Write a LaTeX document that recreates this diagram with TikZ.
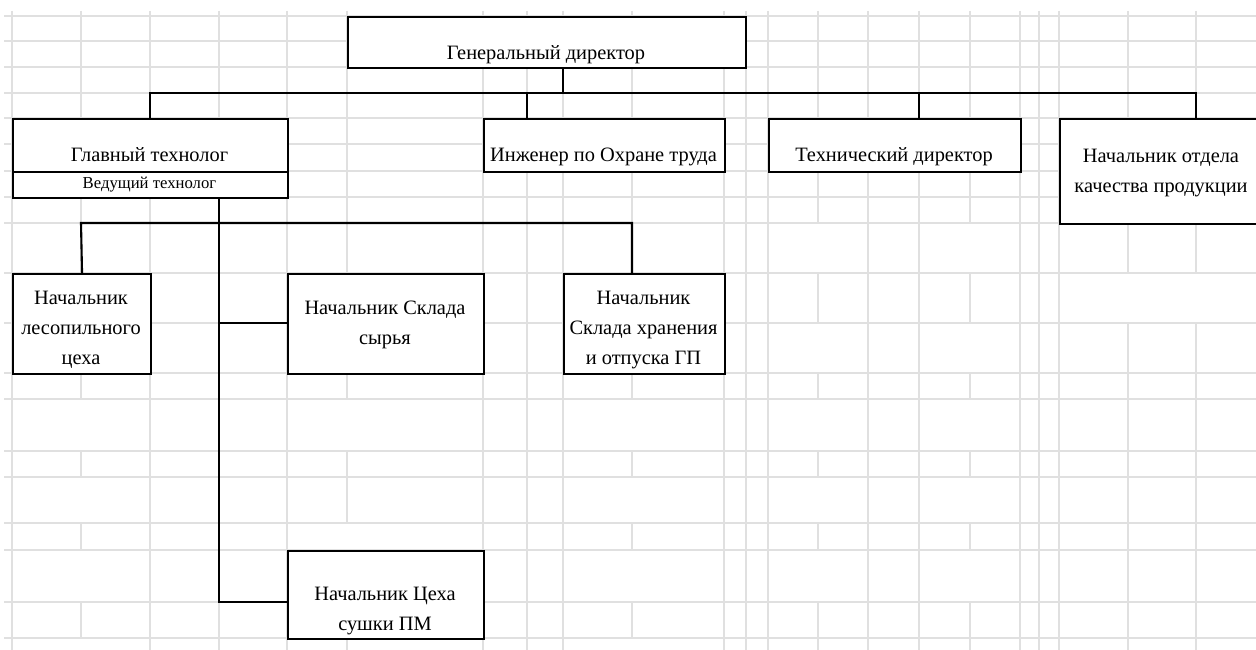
\documentclass[tikz,border=0pt]{standalone}
\usepackage{fontspec}
\setmainfont{Liberation Serif}
\definecolor{gridgray}{RGB}{224,224,224}
\tikzset{
  cellline/.style={draw=gridgray, line width=1.1pt},
  box/.style={draw=black, line width=2.1pt, fill=white, inner sep=0pt, anchor=north west},
  link/.style={draw=black, line width=2.1pt},
  thinlink/.style={draw=black, line width=1.1pt},
  txt/.style={font=\fontsize{20.4}{30}\selectfont, align=center, inner sep=0pt, anchor=base},
  smalltxt/.style={txt, font=\fontsize{16.7}{20}\selectfont}
}
\begin{document}
\begin{tikzpicture}[x=1pt, y=-1pt]
\useasboundingbox (0,0) rectangle (1256,650);
\fill[white] (0,0) rectangle (1256,650);
\clip (0,0) rectangle (1256,650);

% spreadsheet cell lines
\foreach \y in {16,41,67,93,118,144,171,197,223,273,323,373,399,451,477,523,550,602,638}
  \draw[cellline] (4,\y) -- (1256,\y);
\foreach \x in {12,150,219,287,483,527,563,724,746,768,868,919,1020,1039,1059}
  \draw[cellline] (\x,11) -- (\x,650);
\foreach \a/\b in {11/118,197/273,373/399,451/477,523/550,602/638}
  \draw[cellline] (81,\a) -- (81,\b);
\foreach \a/\b in {11/223,373/399,451/477,523/550,602/638}
  \draw[cellline] (632,\a) -- (632,\b);
\foreach \a/\b in {11/273,373/399,451/523,602/650}
  \draw[cellline] (347,\a) -- (347,\b);
\foreach \x in {818,970}
  \foreach \a/\b in {11/223,273/323,373/399,451/477,523/550,602/650}
    \draw[cellline] (\x,\a) -- (\x,\b);
\foreach \x in {1128,1196}
  \foreach \a/\b in {11/273,323/650}
    \draw[cellline] (\x,\a) -- (\x,\b);

% boxes
\node[box, minimum width=398, minimum height=51] (gen) at (347,16) {};
\node[box, minimum width=275, minimum height=53] (glav) at (12,118) {};
\node[box, minimum width=275, minimum height=26] (ved) at (12,171) {};
\node[box, minimum width=241, minimum height=53] (inzh) at (483,118) {};
\node[box, minimum width=252, minimum height=53] (teh) at (768,118) {};
\node[box, minimum width=205, minimum height=105] (kach) at (1059,118) {};
\node[box, minimum width=138, minimum height=100] (les) at (12,273) {};
\node[box, minimum width=196, minimum height=100] (syr) at (287,273) {};
\node[box, minimum width=161, minimum height=100] (hran) at (563,273) {};
\node[box, minimum width=196, minimum height=88] (sush) at (287,550) {};

% captions (a multi-line caption sits on its last baseline)
\node[txt] (genT) at (546,60) {Генеральный директор};
\node[txt] (glavT) at (149.5,161.5) {Главный технолог};
\node[smalltxt] (vedT) at (149.5,189) {Ведущий технолог};
\node[txt] (inzhT) at (603.5,161.5) {Инженер по Охране труда};
\node[txt] (tehT) at (894,161.5) {Технический директор};
\node[txt] (kachT) at (1161,192.5) {Начальник отдела\\качества продукции};
\node[txt] (lesT) at (81,364) {Начальник\\лесопильного\\цеха};
\node[txt] (syrT) at (385,344) {Начальник Склада\\сырья};
\node[txt] (hranT) at (643.5,364) {Начальник\\Склада хранения\\и отпуска ГП};
\node[txt] (sushT) at (385,630) {Начальник Цеха\\сушки ПМ};

% top-level connectors
\coordinate (busTop) at (563,93);
\coordinate (busL) at (150,93);
\coordinate (busR) at (1196,93);
\coordinate (dInzh) at (527,93);
\coordinate (dTeh) at (919,93);
\draw[thinlink] (gen.south -| busTop) -- (busTop);
\draw[link] (glav.north -| busL) -- (busL) -- (busR) -- (kach.north -| busR);
\draw[link] (dInzh) -- (dInzh |- inzh.north);
\draw[link] (dTeh) -- (dTeh |- teh.north);

% technologist's branch
\coordinate (trunk) at (219,602);
\coordinate (trunkMid) at (219,323);
\coordinate (hL) at (81,223);
\coordinate (hR) at (632,223);
\draw[link] (trunk |- ved.south) -- (trunk) -- (trunk -| sush.west);
\draw[link] (trunkMid) -- (trunkMid -| syr.west);
\draw[link] (les.north) -- (hL) -- (hR) -- (hR |- hran.north);
\end{tikzpicture}
\end{document}
